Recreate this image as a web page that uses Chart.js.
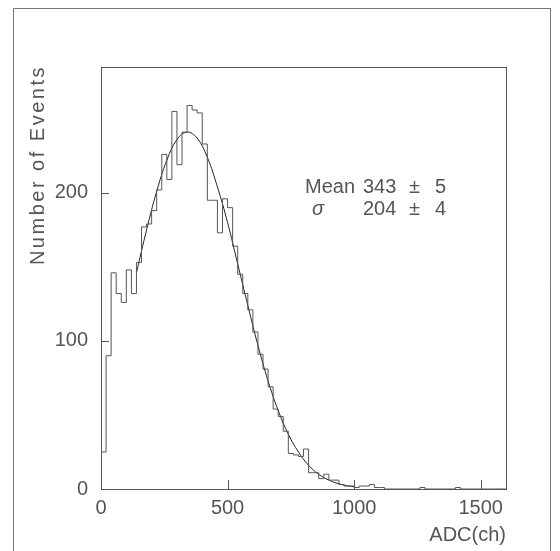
<!DOCTYPE html>
<html>
<head>
<meta charset="utf-8">
<script src="https://cdn.jsdelivr.net/npm/chart.js@4.4.1/dist/chart.umd.min.js"></script>
<style>
  html, body { margin: 0; padding: 0; background: #fff; }
  canvas { display: block; }
</style>
</head>
<body>
<canvas id="adcChart" width="560" height="551"></canvas>
<script>
// Histogram: 80 bins of 20 channels each, from 0 to 1600
const binStart = 0;
const binWidth = 20;
const counts = [
  25, 90, 146, 132, 126, 148, 132, 153, 177, 179,
  188, 202, 226, 209, 255, 219, 241, 259, 256, 254,
  233, 195, 195, 173, 196, 190, 164, 145, 132, 121,
  106, 91, 81, 69, 54, 49, 39, 24, 23, 22,
  27, 11, 11, 7, 10, 6, 6, 3, 2, 2,
  1, 2, 2, 3, 1, 1, 0, 0, 0, 0,
  0, 0, 0, 1, 0, 0, 0, 0, 0, 0,
  1, 0, 0, 0, 0, 0, 0, 0, 0, 0
];

// Gaussian fit curve
const fitX = [140, 180, 220, 260, 300, 340, 380, 420, 460, 500, 540, 580,
              620, 660, 700, 740, 780, 820, 860, 900, 940, 980, 1000];
const fitY = [146, 175, 201, 222, 236, 241, 237, 224, 204, 180, 152, 124,
              97, 73, 53, 37, 25, 16, 10, 6, 3.5, 2, 1.5];

// Axes
const xTicks = [0, 500, 1000, 1500];
const yTicks = [0, 100, 200];
const xRange = [0, 1600];
const yRange = [0, 285];

// Fit results box
const statNames = ['Mean', 'σ'];
const statValues = ['343', '204'];
const statErrors = ['5', '4'];

const textColor = '#555';
const fontFamily = '"Liberation Sans", Arial, sans-serif';

// build the step outline: one point per left bin edge, plus the closing edge
const histPoints = counts.map((c, i) => ({ x: binStart + i * binWidth, y: c }));
histPoints.push({ x: binStart + counts.length * binWidth, y: counts[counts.length - 1] });

const fitPoints = fitX.map((x, i) => ({ x: x, y: fitY[i] }));

// frame, inward ticks, titles and the stats text
const decorPlugin = {
  id: 'decor',
  afterDraw(chart) {
    const ctx = chart.ctx;
    const area = chart.chartArea;
    const xs = chart.scales.x;
    const ys = chart.scales.y;
    ctx.save();

    // outer pad frame
    ctx.strokeStyle = '#777';
    ctx.lineWidth = 1;
    ctx.beginPath();
    ctx.moveTo(13.5, 560);
    ctx.lineTo(13.5, 8.5);
    ctx.lineTo(550.5, 8.5);
    ctx.lineTo(550.5, 560);
    ctx.stroke();

    // plot box
    ctx.strokeStyle = '#555';
    ctx.strokeRect(Math.round(area.left) + 0.5, Math.round(area.top) + 0.5,
                   Math.round(area.right - area.left), Math.round(area.bottom - area.top));

    // ticks pointing inwards
    ctx.beginPath();
    yTicks.forEach(v => {
      const py = Math.round(ys.getPixelForValue(v)) + 0.5;
      ctx.moveTo(area.left, py);
      ctx.lineTo(area.left + 8, py);
    });
    xTicks.forEach(v => {
      const px = Math.round(xs.getPixelForValue(v)) + 0.5;
      ctx.moveTo(px, area.bottom);
      ctx.lineTo(px, area.bottom - 9);
    });
    ctx.stroke();

    ctx.fillStyle = textColor;
    ctx.font = '20px ' + fontFamily;

    // x title, right aligned to the plot
    ctx.textAlign = 'right';
    ctx.textBaseline = 'alphabetic';
    ctx.fillText('ADC(ch)', area.right, 541);

    // y title, rotated, ending at the plot top (the original font runs wide)
    ctx.save();
    ctx.translate(44, area.top - 2);
    ctx.rotate(-Math.PI / 2);
    ctx.textAlign = 'right';
    ctx.letterSpacing = '2.5px';
    ctx.fillText('Number of Events', 0, 0);
    ctx.restore();

    // stats
    const baselines = [193, 215];
    statNames.forEach((name, i) => {
      const yb = baselines[i];
      ctx.textAlign = 'left';
      if (name === 'σ') {
        ctx.font = 'italic 20px ' + fontFamily;
        ctx.fillText(name, 312, yb);
        ctx.font = '20px ' + fontFamily;
      } else {
        ctx.fillText(name, 305, yb);
      }
      ctx.fillText(statValues[i], 363, yb);
      ctx.fillText('±', 409, yb);
      ctx.fillText(statErrors[i], 435, yb);
    });

    ctx.restore();
  }
};

const chart = new Chart(document.getElementById('adcChart').getContext('2d'), {
  type: 'line',
  data: {
    datasets: [
      {
        label: 'counts',
        data: histPoints,
        stepped: true,
        borderColor: '#555',
        borderWidth: 1,
        pointRadius: 0,
        fill: false
      },
      {
        label: 'fit',
        data: fitPoints,
        tension: 0.4,
        borderColor: '#222',
        borderWidth: 1,
        pointRadius: 0,
        fill: false
      }
    ]
  },
  options: {
    responsive: false,
    animation: false,
    layout: { padding: { left: 0, right: 54, top: 67, bottom: 0 } },
    plugins: { legend: { display: false }, tooltip: { enabled: false } },
    scales: {
      x: {
        type: 'linear',
        min: xRange[0],
        max: xRange[1],
        grid: { display: false, drawTicks: false },
        border: { display: false },
        ticks: {
          color: textColor,
          font: { family: fontFamily, size: 20 },
          padding: 7,
          maxRotation: 0,
          autoSkip: false,
          callback: v => String(v)
        },
        afterBuildTicks: s => { s.ticks = xTicks.map(v => ({ value: v })); },
        afterFit: s => { s.height = 62; }
      },
      y: {
        type: 'linear',
        min: yRange[0],
        max: yRange[1],
        grid: { display: false, drawTicks: false },
        border: { display: false },
        ticks: {
          color: textColor,
          font: { family: fontFamily, size: 20 },
          padding: 13,
          autoSkip: false,
          callback: v => String(v)
        },
        afterBuildTicks: s => { s.ticks = yTicks.map(v => ({ value: v })); },
        afterFit: s => { s.width = 101; }
      }
    }
  },
  plugins: [decorPlugin]
});
</script>
</body>
</html>
